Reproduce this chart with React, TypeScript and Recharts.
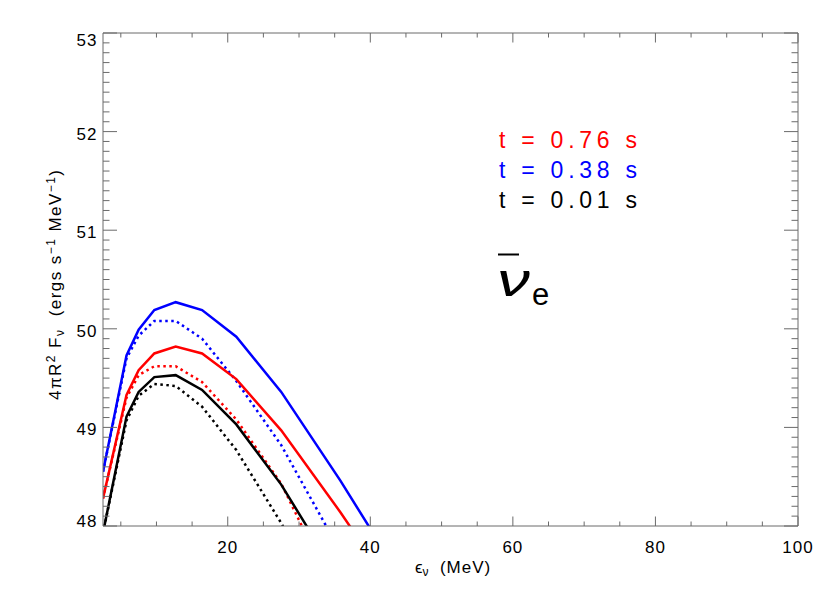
import { Line, LineChart, XAxis, YAxis } from 'recharts';

// neutrino energy grid (MeV)
const energy = [2.5, 5.8, 7.5, 9.7, 12.7, 16.4, 21.2, 27.5, 35.8, 46.5];

// log10 of 4 pi R^2 F_nu, solid and dotted runs at three times
const t076 = [48.28, 49.33, 49.58, 49.75, 49.82, 49.75, 49.49, 48.97, 48.14, 47.0];
const t076Dot = [48.28, 49.3, 49.53, 49.62, 49.62, 49.46, 49.08, 48.43, 47.2, 45.9];
const t038 = [48.55, 49.73, 49.99, 50.19, 50.27, 50.19, 49.92, 49.36, 48.46, 47.22];
const t038Dot = [48.55, 49.7, 49.93, 50.08, 50.08, 49.9, 49.47, 48.82, 47.74, 46.4];
const t001 = [47.93, 49.11, 49.36, 49.51, 49.53, 49.38, 49.03, 48.42, 47.44, 46.2];
const t001Dot = [47.93, 49.07, 49.32, 49.44, 49.42, 49.21, 48.77, 48.03, 46.9, 45.5];

const legendLabels = ['t = 0.76 s', 't = 0.38 s', 't = 0.01 s'];
const legendColors = ['#ff0000', '#0000ff', '#000000'];

const xTicks = Array.from({ length: 20 }, (_, i) => (i + 1) * 5);
const yTicks = Array.from({ length: 51 }, (_, i) => Math.round(480 + i) / 10);

const data = energy.map((e, i) => ({
  e,
  t076: t076[i],
  t076Dot: t076Dot[i],
  t038: t038[i],
  t038Dot: t038Dot[i],
  t001: t001[i],
  t001Dot: t001Dot[i],
}));

const AXIS = '#6a6a6a';
const FONT = '"Liberation Sans", Arial, sans-serif';

const isMajorY = (v: number) => Math.abs(v - Math.round(v)) < 1e-6;

function BottomTick(props: any) {
  const { x, y, payload } = props;
  const v = payload.value;
  const major = v % 20 === 0;
  return (
    <g>
      <line x1={x} x2={x} y1={y} y2={y - (major ? 9.5 : 4.5)} stroke={AXIS} />
      {major && (
        <text x={x} y={y + 27} textAnchor="middle" fontFamily={FONT} fontSize={17} letterSpacing={1} fill="#000">
          {v}
        </text>
      )}
    </g>
  );
}

function TopTick(props: any) {
  const { x, y, payload } = props;
  const major = payload.value % 20 === 0;
  return <line x1={x} x2={x} y1={y} y2={y + (major ? 9.5 : 4.5)} stroke={AXIS} />;
}

function LeftTick(props: any) {
  const { x, y, payload } = props;
  const v = payload.value;
  const major = isMajorY(v);
  const dy = v > 52.5 ? 12.5 : v < 48.5 ? 0.5 : 8;
  return (
    <g>
      <line x1={x} x2={x + (major ? 14 : 6.5)} y1={y} y2={y} stroke={AXIS} />
      {major && (
        <text x={x - 5.5} y={y + dy} textAnchor="end" fontFamily={FONT} fontSize={17} letterSpacing={1} fill="#000">
          {Math.round(v)}
        </text>
      )}
    </g>
  );
}

function RightTick(props: any) {
  const { x, y, payload } = props;
  const major = isMajorY(payload.value);
  return <line x1={x} x2={x - (major ? 14 : 6.5)} y1={y} y2={y} stroke={AXIS} />;
}

export default function App() {
  return (
    <div style={{ position: 'absolute', left: 0, top: 0, width: 830, height: 593, background: '#fff' }}>
      <LineChart width={830} height={593} data={data} margin={{ top: 32, right: 31, bottom: 0, left: 0 }}>
        <XAxis
          xAxisId="b"
          dataKey="e"
          type="number"
          domain={[2.5, 100]}
          allowDataOverflow
          ticks={xTicks}
          interval={0}
          height={67}
          tickSize={0}
          tickMargin={0}
          tickLine={false}
          axisLine={{ stroke: AXIS }}
          tick={<BottomTick />}
        />
        <XAxis
          xAxisId="t"
          dataKey="e"
          type="number"
          orientation="top"
          domain={[2.5, 100]}
          allowDataOverflow
          ticks={xTicks}
          interval={0}
          height={1}
          tickSize={0}
          tickMargin={0}
          tickLine={false}
          axisLine={{ stroke: AXIS }}
          tick={<TopTick />}
        />
        <YAxis
          yAxisId="l"
          type="number"
          domain={[48, 53]}
          allowDataOverflow
          ticks={yTicks}
          interval={0}
          width={103}
          tickSize={0}
          tickMargin={0}
          tickLine={false}
          axisLine={{ stroke: AXIS }}
          tick={<LeftTick />}
        />
        <YAxis
          yAxisId="r"
          orientation="right"
          type="number"
          domain={[48, 53]}
          allowDataOverflow
          ticks={yTicks}
          interval={0}
          width={1}
          tickSize={0}
          tickMargin={0}
          tickLine={false}
          axisLine={{ stroke: AXIS }}
          tick={<RightTick />}
        />
        <Line xAxisId="b" yAxisId="l" dataKey="t001Dot" stroke="#000" strokeWidth={2.5} strokeDasharray="2.5 3.5" dot={false} isAnimationActive={false} />
        <Line xAxisId="b" yAxisId="l" dataKey="t076Dot" stroke="#ff0000" strokeWidth={2.5} strokeDasharray="2.5 3.5" dot={false} isAnimationActive={false} />
        <Line xAxisId="b" yAxisId="l" dataKey="t038Dot" stroke="#0000ff" strokeWidth={2.5} strokeDasharray="2.5 3.5" dot={false} isAnimationActive={false} />
        <Line xAxisId="b" yAxisId="l" dataKey="t001" stroke="#000" strokeWidth={2.5} dot={false} isAnimationActive={false} />
        <Line xAxisId="b" yAxisId="l" dataKey="t076" stroke="#ff0000" strokeWidth={2.5} dot={false} isAnimationActive={false} />
        <Line xAxisId="b" yAxisId="l" dataKey="t038" stroke="#0000ff" strokeWidth={2.5} dot={false} isAnimationActive={false} />
        {/* hidden series so the top and right frame axes get drawn */}
        <Line xAxisId="t" yAxisId="r" dataKey="t038" stroke="none" dot={false} legendType="none" isAnimationActive={false} />
      </LineChart>
      <svg width={830} height={593} style={{ position: 'absolute', left: 0, top: 0, pointerEvents: 'none' }}>
        {legendLabels.map((s, i) => (
          <text
            key={s}
            x={499}
            y={147.5 + i * 30.2}
            fontFamily={FONT}
            fontSize={23}
            fill={legendColors[i]}
            textLength={138}
            lengthAdjust="spacing"
            style={{ whiteSpace: 'pre' }}
          >
            {s}
          </text>
        ))}
        <line x1={498} x2={519} y1={254.5} y2={254.5} stroke="#000" strokeWidth={2} />
        <text
          x={497}
          y={295.5}
          fontFamily={FONT}
          fontStyle="italic"
          fontSize={46}
          textLength={33}
          lengthAdjust="spacingAndGlyphs"
        >
          ν
        </text>
        <text x={532} y={305} fontFamily={FONT} fontSize={31}>
          e
        </text>
        <text x={415} y={572.5} fontFamily={FONT} fontSize={17} style={{ whiteSpace: 'pre' }}>
          ϵ
          <tspan fontSize={12} dy={3}>ν</tspan>
          <tspan dy={-3} letterSpacing={1}>  (MeV)</tspan>
        </text>
        <text
          transform="translate(61,285) rotate(-90)"
          textAnchor="middle"
          fontFamily={FONT}
          fontSize={17}
          textLength={230}
          lengthAdjust="spacing"
          style={{ whiteSpace: 'pre' }}
        >
          4πR<tspan fontSize={12} dy={-6}>2</tspan>
          <tspan dy={6}> F</tspan>
          <tspan fontSize={12} dy={3}>ν</tspan>
          <tspan dy={-3}>  (ergs s</tspan>
          <tspan fontSize={12} dy={-6}>−1</tspan>
          <tspan dy={6}> MeV</tspan>
          <tspan fontSize={12} dy={-6}>−1</tspan>
          <tspan dy={6}>)</tspan>
        </text>
      </svg>
    </div>
  );
}
